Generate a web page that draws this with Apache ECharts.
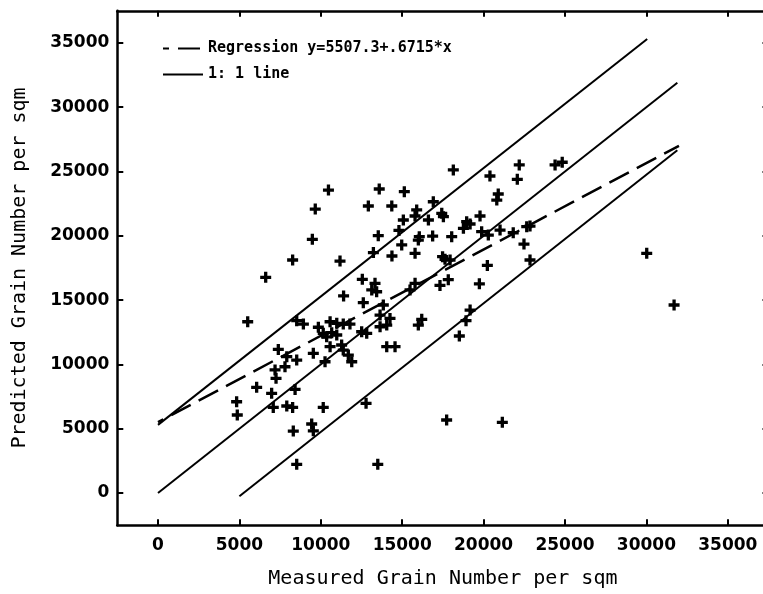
<!DOCTYPE html>
<html>
<head>
<meta charset="utf-8">
<script src="https://cdn.jsdelivr.net/npm/echarts@6/dist/echarts.min.js"></script>
<style>
html,body{margin:0;padding:0;background:#fff;}
#chart{width:763px;height:594px;}
</style>
</head>
<body>
<div id="chart"></div>
<script>
// ---- data ----
const measured = [
  10470, 13590, 9660, 12920, 14360, 9480, 13530, 8270, 11180, 13230,
  14370, 14800, 6615, 12550, 13330, 13130, 13430, 11400, 12610, 13840,
  15130, 18140, 20390, 22190, 22070, 24390, 24830, 16910, 17430, 17530,
  15890, 15790, 15070, 16610, 14970, 15790, 16050, 15990, 16870, 18040,
  19780, 20900, 20810, 18960, 19170, 18760, 19880, 20290, 21010, 21820,
  22650, 22850, 22480, 22850, 20230, 19740, 17830, 17320, 17480, 17630,
  15790, 17940, 15480, 5510, 8520, 8930, 9850, 10570, 10980, 11380,
  11790, 10150, 10360, 10670, 10980, 9540, 10570, 11280, 11380, 11690,
  11900, 10260, 12510, 12820, 13640, 14250, 14050, 13640, 16200, 15990,
  14050, 14560, 7390, 8520, 7910, 7800, 7190, 7250, 6060, 6980,
  8420, 4830, 4870, 7080, 7910, 8270, 10150, 8310, 9440, 9540,
  12780, 8520, 13500, 17730, 30020, 31700, 19170, 18920, 18510, 21150
];
const predicted = [
  23560, 23640, 22080, 22320, 22320, 19730, 20010, 18120, 18040, 18700,
  18430, 20420, 16770, 16620, 16310, 15790, 15650, 15330, 14800, 14620,
  23430, 25120, 24650, 25510, 24390, 25510, 25720, 22650, 21750, 21490,
  22010, 21540, 21230, 21230, 19290, 18640, 19930, 19670, 19980, 19930,
  21540, 23250, 22780, 21100, 20920, 20580, 20320, 20060, 20450, 20240,
  20710, 20760, 19360, 18120, 17700, 16270, 16590, 16140, 18380, 18180,
  16310, 18120, 15790, 13320, 13400, 13140, 12890, 13320, 13200, 13140,
  13140, 12420, 12150, 12470, 12290, 10860, 11380, 11510, 11120, 10730,
  10210, 10210, 12540, 12420, 13840, 13580, 13060, 12930, 13510, 13060,
  11380, 11380, 11170, 10340, 10600, 9820, 9570, 8920, 8220, 7750,
  8060, 7100, 6070, 6660, 6770, 6660, 6660, 4820, 5370, 4840,
  6980, 2230, 2230, 5680, 18640, 14620, 14230, 13400, 12210, 5500
];
const regressionX = [0, 32000];
const regressionY = [5510, 27000];
const oneToOneX = [0, 31900];
const oneToOneY = [0, 31900];
const upperX = [0, 30050];
const upperY = [5300, 35300];
const lowerX = [5000, 31900];
const lowerY = [-250, 26650];
const tickValues = [0, 5000, 10000, 15000, 20000, 25000, 30000, 35000];
const regressionName = 'Regression y=5507.3+.6715*x';
const oneToOneName = '1: 1 line';
const xTitle = 'Measured Grain Number per sqm';
const yTitle = 'Predicted Grain Number per sqm';

// ---- build ----
const pts = measured.map((x, i) => [x, predicted[i]]);
const pair = (xs, ys) => xs.map((x, i) => [x, ys[i]]);
const plus = 'path://M3.5,0 L6.5,0 L6.5,3.5 L10,3.5 L10,6.5 L6.5,6.5 L6.5,10 L3.5,10 L3.5,6.5 L0,6.5 L0,3.5 L3.5,3.5 Z';

const tickFont = {fontFamily: 'DejaVu Sans', fontWeight: 'bold', fontSize: 17, color: '#000'};
const frameLine = {show: true, onZero: false, lineStyle: {color: '#000', width: 2.5}};
const inTick = {show: true, inside: true, length: 6, customValues: tickValues, lineStyle: {color: '#000', width: 2}};
const plainNum = (v) => String(v);

const chart = echarts.init(document.getElementById('chart'), null, {renderer: 'canvas'});
chart.setOption({
  animation: false,
  backgroundColor: '#fff',
  color: ['#000'],
  grid: {left: 117.3, right: -5.5, top: 10.75, bottom: 68.8, outerBoundsMode: 'none'},
  xAxis: [
    {type: 'value', position: 'bottom', min: -2500, max: 37500,
     axisLine: frameLine, axisTick: inTick, splitLine: {show: false},
     axisLabel: Object.assign({margin: 12, customValues: tickValues, formatter: plainNum}, tickFont),
     name: xTitle, nameLocation: 'middle', nameGap: 44, nameMoveOverlap: false,
     nameTextStyle: {fontFamily: 'DejaVu Sans Mono', fontSize: 20, color: '#000'}},
    {type: 'value', position: 'top', min: -2500, max: 37500,
     axisLine: frameLine, axisTick: inTick, splitLine: {show: false},
     axisLabel: {show: false}}
  ],
  yAxis: [
    {type: 'value', position: 'left', min: -2500, max: 37500,
     axisLine: frameLine, axisTick: inTick, splitLine: {show: false},
     axisLabel: Object.assign({margin: 8, customValues: tickValues, formatter: plainNum}, tickFont),
     name: yTitle, nameLocation: 'middle', nameGap: 88, nameRotate: 90, nameMoveOverlap: false,
     nameTextStyle: {fontFamily: 'DejaVu Sans Mono', fontSize: 20, color: '#000'}},
    {type: 'value', position: 'right', min: -2500, max: 37500,
     axisLine: frameLine, axisTick: inTick, splitLine: {show: false},
     axisLabel: {show: false}}
  ],
  legend: {
    data: [regressionName, oneToOneName],
    orient: 'vertical', left: 157, top: 36,
    itemWidth: 40, itemHeight: 14, itemGap: 11,
    itemStyle: {opacity: 0},
    textStyle: {fontFamily: 'DejaVu Sans Mono', fontWeight: 'bold', fontSize: 15, color: '#000'},
    selectedMode: false
  },
  series: [
    {name: 'points', type: 'scatter', data: pts, symbol: plus, symbolSize: 11,
     itemStyle: {color: '#000', opacity: 1}, z: 3},
    {name: regressionName, type: 'line', data: pair(regressionX, regressionY),
     symbol: 'none', itemStyle: {color: '#000'},
     lineStyle: {color: '#000', width: 2.5, type: [22, 9], dashOffset: 16}, z: 2},
    {name: oneToOneName, type: 'line', data: pair(oneToOneX, oneToOneY),
     symbol: 'none', itemStyle: {color: '#000'}, lineStyle: {color: '#000', width: 2}, z: 2},
    {name: 'upper', type: 'line', data: pair(upperX, upperY),
     symbol: 'none', itemStyle: {color: '#000'}, lineStyle: {color: '#000', width: 2}, z: 2},
    {name: 'lower', type: 'line', data: pair(lowerX, lowerY),
     symbol: 'none', itemStyle: {color: '#000'}, lineStyle: {color: '#000', width: 2}, z: 2}
  ]
});
</script>
</body>
</html>
